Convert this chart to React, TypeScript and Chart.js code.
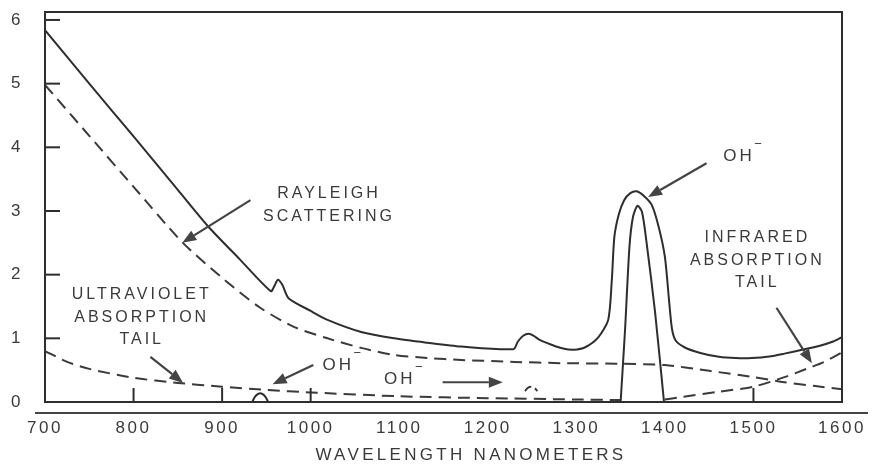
import React, { useEffect, useRef } from "react";
import { Chart, registerables } from "chart.js";

Chart.register(...registerables);

// ---- data (wavelength in nm, attenuation) ----
const totalWavelength = [700, 750, 800, 850, 884, 920, 955, 959, 963, 968, 975, 1000, 1019, 1057, 1094, 1132, 1170, 1229, 1234, 1240, 1246, 1252, 1258, 1272, 1285, 1297, 1310, 1325, 1336, 1340, 1343, 1348, 1354, 1361, 1368, 1376, 1385, 1393, 1400, 1405, 1408, 1412, 1422, 1440, 1461, 1480, 1498, 1520, 1535, 1555, 1574, 1590, 1600];
const totalAttenuation = [5.84, 5.0, 4.17, 3.33, 2.76, 2.24, 1.74, 1.82, 1.92, 1.84, 1.63, 1.43, 1.29, 1.1, 1.0, 0.93, 0.87, 0.83, 0.95, 1.04, 1.07, 1.04, 0.98, 0.9, 0.84, 0.82, 0.86, 1.02, 1.29, 1.9, 2.6, 2.95, 3.17, 3.28, 3.31, 3.24, 3.1, 2.75, 2.28, 1.55, 1.15, 0.97, 0.86, 0.77, 0.71, 0.69, 0.69, 0.72, 0.76, 0.82, 0.88, 0.95, 1.02];

const ohPeakWavelength = [1350, 1355, 1360, 1364, 1369, 1374, 1379, 1389, 1399];
const ohPeakAttenuation = [0, 1.13, 2.44, 2.91, 3.08, 2.99, 2.54, 1.4, 0];

const rayleighWavelength = [700, 750, 800, 855, 900, 943, 981, 1019, 1057, 1094, 1132, 1170, 1230, 1283, 1350, 1400, 1450, 1500, 1535, 1570, 1600];
const rayleighAttenuation = [4.98, 4.18, 3.38, 2.51, 1.95, 1.48, 1.18, 1.0, 0.85, 0.74, 0.69, 0.66, 0.63, 0.61, 0.6, 0.58, 0.49, 0.39, 0.31, 0.25, 0.2];

const uvWavelength = [700, 725, 750, 800, 850, 900, 950, 1000, 1100, 1200, 1300, 1350];
const uvAttenuation = [0.8, 0.63, 0.52, 0.38, 0.3, 0.24, 0.19, 0.15, 0.09, 0.06, 0.04, 0.03];

const irWavelength = [1400, 1420, 1460, 1500, 1535, 1560, 1580, 1600];
const irAttenuation = [0.04, 0.08, 0.16, 0.24, 0.39, 0.52, 0.63, 0.78];

const ohSmallWavelength = [934, 937, 941, 945, 949, 952];
const ohSmallAttenuation = [0, 0.08, 0.13, 0.13, 0.08, 0];

const ohDashWavelength = [1242, 1245, 1249, 1253, 1256];
const ohDashAttenuation = [0.17, 0.22, 0.24, 0.22, 0.17];

const innerTickWavelengths = [800, 900, 1000, 1500];

// ---- annotations (data coordinates) ----
const textLabels = [
  { lines: ["RAYLEIGH", "SCATTERING"], x: 1019, y: 3.27 },
  { lines: ["ULTRAVIOLET", "ABSORPTION", "TAIL"], x: 807.5, y: 1.68 },
  { lines: ["INFRARED", "ABSORPTION", "TAIL"], x: 1502.7, y: 2.58 },
];
const ionLabels = [
  { x: 1029.4, y: 0.58 },
  { x: 1099, y: 0.35 },
  { x: 1482, y: 3.86 },
];
const arrows = [
  { x1: 932, y1: 3.17, x2: 855, y2: 2.5 },
  { x1: 819, y1: 0.71, x2: 856, y2: 0.3 },
  { x1: 1003, y1: 0.58, x2: 957, y2: 0.28 },
  { x1: 1149, y1: 0.31, x2: 1217, y2: 0.31 },
  { x1: 1447, y1: 3.75, x2: 1381, y2: 3.22 },
  { x1: 1526, y1: 1.48, x2: 1566, y2: 0.61 },
];
const axisTitle = "WAVELENGTH NANOMETERS";
const axisTitleX = 1181;

const INK = "#2e2e2e";
const TEXT = "#3a3a3a";
const FONT = "'Liberation Sans', Arial, Helvetica, sans-serif";

const toPoints = (xs: number[], ys: number[]) => xs.map((x, i) => ({ x, y: ys[i] }));

const decorPlugin = {
  id: "decor",
  beforeDraw(chart: any) {
    const ctx = chart.ctx;
    ctx.save();
    ctx.fillStyle = "#ffffff";
    ctx.fillRect(0, 0, chart.width, chart.height);
    ctx.restore();
    (ctx as any).letterSpacing = "2.5px";
  },
  afterDraw(chart: any) {
    const ctx = chart.ctx;
    const xs = chart.scales.x;
    const ys = chart.scales.y;
    const { left, right, top, bottom } = chart.chartArea;
    ctx.save();
    ctx.strokeStyle = INK;
    ctx.lineWidth = 2;
    ctx.setLineDash([]);
    // frame
    ctx.strokeRect(left, top, right - left, bottom - top);
    // long x axis line below frame
    ctx.beginPath();
    ctx.strokeStyle = "#444";
    ctx.moveTo(left - 10, bottom + 11);
    ctx.lineTo(right + 26, bottom + 11);
    ctx.stroke();
    ctx.strokeStyle = INK;
    // inner y ticks
    for (let v = 1; v <= 6; v++) {
      const py = ys.getPixelForValue(v);
      ctx.beginPath();
      ctx.moveTo(left, py);
      ctx.lineTo(left + 15, py);
      ctx.stroke();
    }
    // inner x ticks
    innerTickWavelengths.forEach((w) => {
      const px = xs.getPixelForValue(w);
      ctx.beginPath();
      ctx.moveTo(px, bottom);
      ctx.lineTo(px, bottom - 14);
      ctx.stroke();
    });
    // arrows
    arrows.forEach((a) => {
      const x1 = xs.getPixelForValue(a.x1);
      const y1 = ys.getPixelForValue(a.y1);
      const x2 = xs.getPixelForValue(a.x2);
      const y2 = ys.getPixelForValue(a.y2);
      const ang = Math.atan2(y2 - y1, x2 - x1);
      const headLen = 14;
      const headW = 5.5;
      const bx = x2 - headLen * Math.cos(ang);
      const by = y2 - headLen * Math.sin(ang);
      ctx.strokeStyle = "#444";
      ctx.fillStyle = "#444";
      ctx.lineWidth = 2.2;
      ctx.beginPath();
      ctx.moveTo(x1, y1);
      ctx.lineTo(bx, by);
      ctx.stroke();
      ctx.beginPath();
      ctx.moveTo(x2, y2);
      ctx.lineTo(bx + headW * Math.sin(ang), by - headW * Math.cos(ang));
      ctx.lineTo(bx - headW * Math.sin(ang), by + headW * Math.cos(ang));
      ctx.closePath();
      ctx.fill();
    });
    // text labels
    ctx.fillStyle = TEXT;
    ctx.textAlign = "center";
    ctx.textBaseline = "middle";
    ctx.font = `16px ${FONT}`;
    (ctx as any).letterSpacing = "3px";
    textLabels.forEach((t) => {
      const px = xs.getPixelForValue(t.x);
      const py = ys.getPixelForValue(t.y);
      t.lines.forEach((line, i) => {
        ctx.fillText(line, px + 1.5, py + i * 22.5);
      });
    });
    ionLabels.forEach((t) => {
      const px = xs.getPixelForValue(t.x);
      const py = ys.getPixelForValue(t.y);
      ctx.font = `17px ${FONT}`;
      (ctx as any).letterSpacing = "3px";
      ctx.textAlign = "center";
      ctx.fillText("OH", px + 1.5, py);
      const w = ctx.measureText("OH").width;
      ctx.font = `13px ${FONT}`;
      (ctx as any).letterSpacing = "0px";
      ctx.textAlign = "left";
      ctx.fillText("\u2212", px + w / 2 + 1, py - 12);
    });
    // axis title
    ctx.font = `17px ${FONT}`;
    (ctx as any).letterSpacing = "3.3px";
    ctx.textAlign = "center";
    ctx.fillText(axisTitle, xs.getPixelForValue(axisTitleX), bottom + 53);
    ctx.restore();
  },
};

export default function App() {
  const canvasRef = useRef<HTMLCanvasElement | null>(null);

  useEffect(() => {
    if (!canvasRef.current) return;
    const solid = { borderColor: INK, borderWidth: 2, pointRadius: 0, fill: false, tension: 0.25 };
    const dashed = { ...solid, borderDash: [12, 7], borderColor: "#3a3a3a" };
    const chart = new Chart(canvasRef.current, {
      type: "line",
      data: {
        datasets: [
          { label: "Total attenuation", data: toPoints(totalWavelength, totalAttenuation), ...solid },
          { label: "OH- absorption peak", data: toPoints(ohPeakWavelength, ohPeakAttenuation), ...solid },
          { label: "OH- absorption 945", data: toPoints(ohSmallWavelength, ohSmallAttenuation), ...solid },
          { label: "Rayleigh scattering", data: toPoints(rayleighWavelength, rayleighAttenuation), ...dashed },
          { label: "Ultraviolet absorption tail", data: toPoints(uvWavelength, uvAttenuation), ...dashed },
          { label: "Infrared absorption tail", data: toPoints(irWavelength, irAttenuation), ...dashed },
          { label: "OH- absorption 1240", data: toPoints(ohDashWavelength, ohDashAttenuation), ...dashed, borderDash: [8, 4] },
        ],
      },
      options: {
        animation: false,
        responsive: false,
        events: [],
        layout: { padding: { left: 0, right: 31, top: 12, bottom: 0 } },
        plugins: { legend: { display: false }, tooltip: { enabled: false } },
        scales: {
          x: {
            type: "linear",
            min: 700,
            max: 1600,
            grid: { display: false, drawTicks: false },
            border: { display: false },
            ticks: {
              stepSize: 100,
              padding: 16,
              color: TEXT,
              font: { family: FONT, size: 17 },
              maxRotation: 0,
              autoSkip: false,
              callback: (v: any) => String(v),
            },
            afterFit: (scale: any) => {
              scale.height = 66;
              scale.paddingLeft = 0;
              scale.paddingRight = 0;
              scale.paddingTop = 0;
              scale.paddingBottom = 0;
            },
          },
          y: {
            type: "linear",
            min: 0,
            max: 6.125,
            grid: { display: false, drawTicks: false },
            border: { display: false },
            ticks: {
              stepSize: 1,
              includeBounds: false,
              padding: 22,
              color: TEXT,
              font: { family: FONT, size: 17 },
              callback: (v: any) => (Number.isInteger(v) ? String(v) : ""),
            },
            afterFit: (scale: any) => {
              scale.width = 45;
              scale.paddingLeft = 0;
              scale.paddingRight = 0;
              scale.paddingTop = 0;
              scale.paddingBottom = 0;
            },
          },
        },
      },
      plugins: [decorPlugin],
    });
    return () => chart.destroy();
  }, []);

  return (
    <div style={{ position: "absolute", left: 0, top: 0, width: 873, height: 468, background: "#fff" }}>
      <canvas ref={canvasRef} width={873} height={468} style={{ display: "block" }} />
    </div>
  );
}
